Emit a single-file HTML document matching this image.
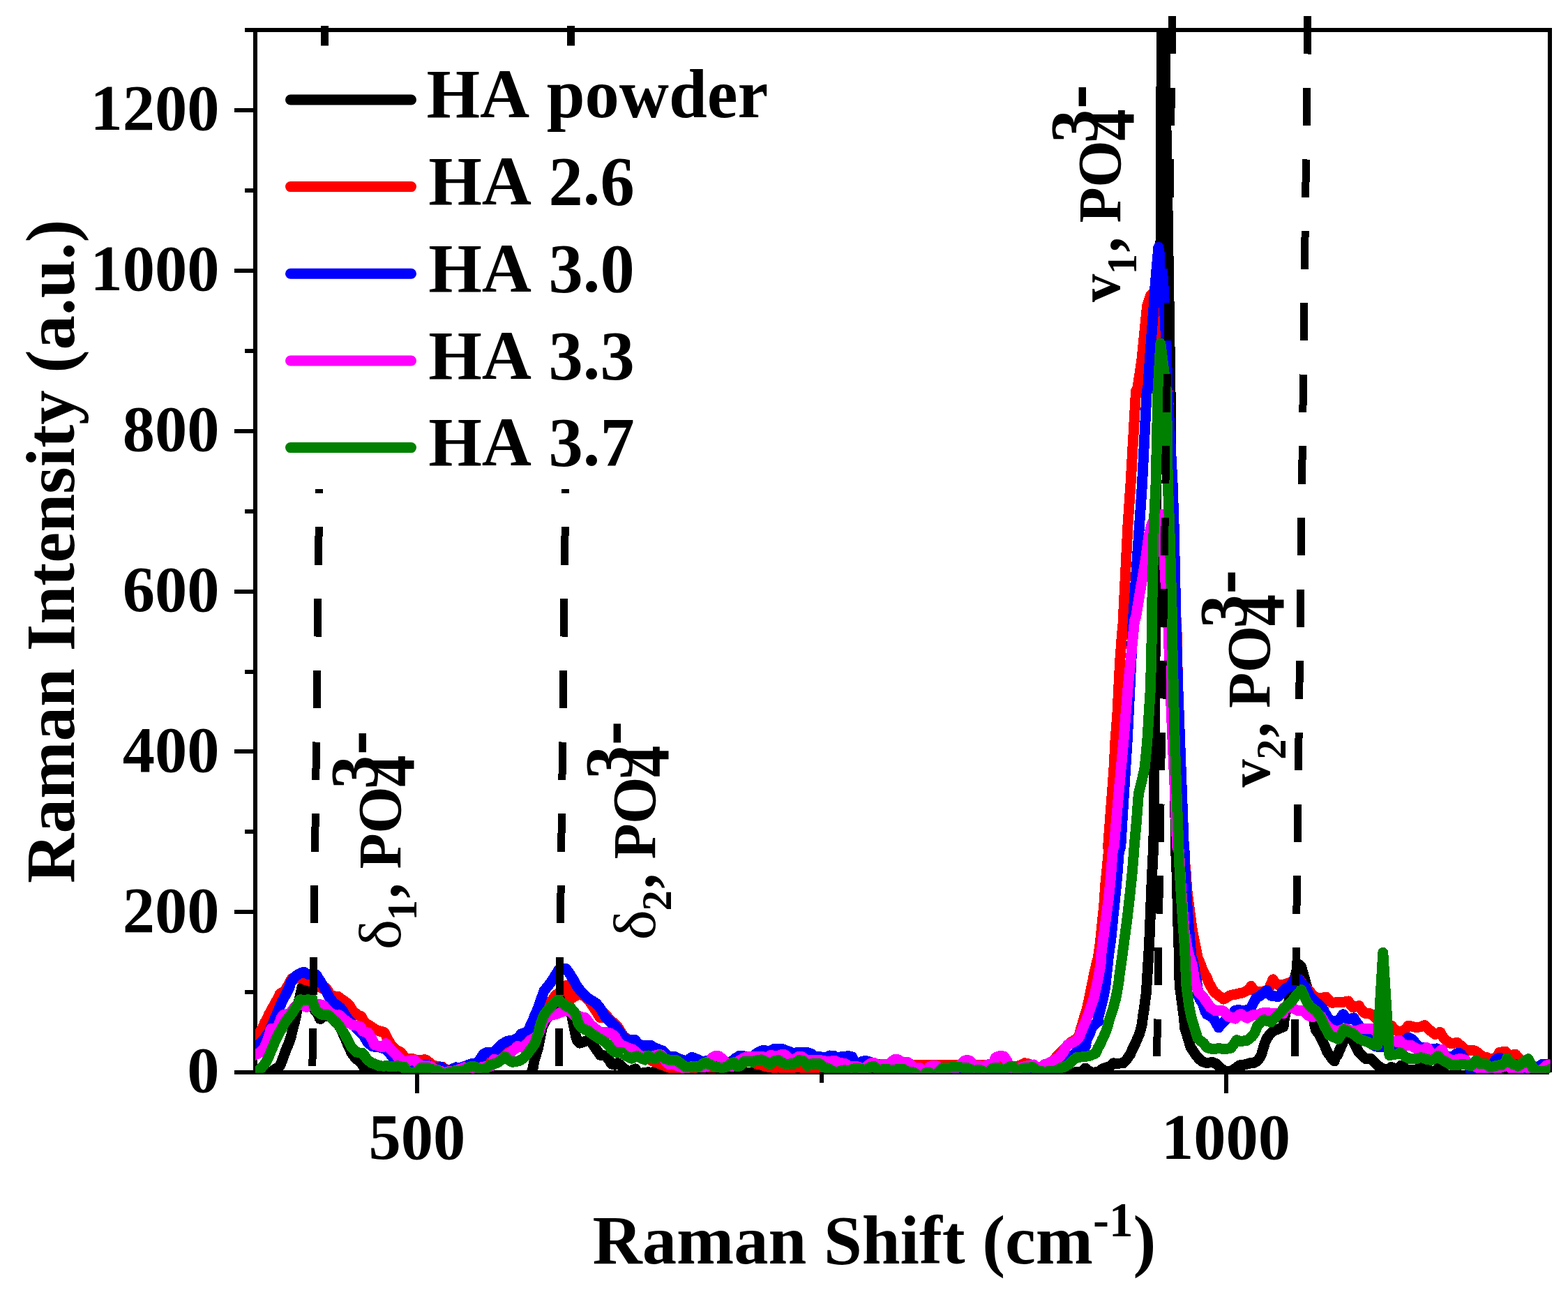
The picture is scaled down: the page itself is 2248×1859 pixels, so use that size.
<!DOCTYPE html>
<html lang="en">
<head>
<meta charset="utf-8">
<title>Raman spectra of HA powder and HA coatings</title>
<style>
html,body{margin:0;padding:0;background:#fff;}
body{width:2248px;height:1859px;overflow:hidden;position:relative;font-family:"Liberation Serif","Times New Roman",Times,serif;}
</style>
</head>
<body>
<svg xmlns="http://www.w3.org/2000/svg" width="2248" height="1859" viewBox="0 0 2248 1859" style="display:block;position:absolute;left:0;top:0;font-kerning:none;font-variant-ligatures:none" font-family="'Liberation Serif','Times New Roman',Times,serif" font-weight="bold" fill="#000">
<rect x="0" y="0" width="2248" height="1859" fill="#fff"/>
<g stroke="#000" stroke-width="6" fill="none" stroke-linecap="butt" shape-rendering="crispEdges">
<path d="M366.0,40.2 V1540.0"/>
<path d="M363.0,1537.0 H2221.2"/>
<path d="M363.0,43.2 H2225.0"/>
<path d="M2222.0,40.2 V1536.8"/>
<path d="M336.0,1537.0 H366.0"/>
<path d="M351.0,1422.1 H366.0"/>
<path d="M336.0,1307.2 H366.0"/>
<path d="M351.0,1192.3 H366.0"/>
<path d="M336.0,1077.4 H366.0"/>
<path d="M351.0,962.5 H366.0"/>
<path d="M336.0,847.6 H366.0"/>
<path d="M351.0,732.6 H366.0"/>
<path d="M336.0,617.7 H366.0"/>
<path d="M351.0,502.8 H366.0"/>
<path d="M336.0,387.9 H366.0"/>
<path d="M351.0,273.0 H366.0"/>
<path d="M336.0,158.1 H366.0"/>
<path d="M351.0,43.2 H366.0"/>
<path d="M598.3,1537.0 V1567.0"/>
<path d="M1178.2,1537.0 V1552.0"/>
<path d="M1758.1,1537.0 V1567.0"/>
</g>
<defs><clipPath id="pc"><rect x="366.0" y="43.2" width="1856.5" height="1494.6"/></clipPath></defs>
<g clip-path="url(#pc)" fill="none" stroke-width="15" stroke-linejoin="round" stroke-linecap="round" shape-rendering="crispEdges">
<path d="M360.0,1544.4 L379.0,1543.9 L390.0,1535.3 L396.0,1531.3 L399.3,1529.7 L400.6,1528.5 L402.6,1525.1 L405.2,1518.0 L408.0,1510.5 L410.0,1504.5 L413.8,1496.1 L417.4,1485.3 L419.2,1477.0 L422.1,1466.5 L424.8,1454.6 L425.7,1447.5 L429.8,1429.4 L432.7,1416.6 L432.7,1415.5 L434.6,1417.1 L439.3,1419.5 L446.0,1433.2 L450.3,1446.5 L455.1,1452.7 L457.5,1457.7 L459.7,1460.6 L458.8,1460.4 L458.6,1460.1 L462.7,1456.6 L473.5,1456.5 L479.6,1463.3 L484.4,1468.1 L488.2,1473.4 L492.3,1482.4 L496.1,1491.1 L499.9,1500.4 L504.2,1509.2 L508.3,1514.9 L512.3,1518.8 L516.7,1522.4 L525.7,1535.2 L529.9,1536.8 L534.1,1539.4 L541.2,1543.2 L549.4,1542.8 L556.1,1543.3 L561.8,1544.3 L568.7,1543.0 L571.3,1541.4 L571.5,1542.4 L584.8,1549.0 L659.6,1538.3 L752.3,1544.4 L761.3,1539.1 L764.0,1531.2 L765.9,1520.8 L768.8,1510.9 L771.6,1501.7 L773.4,1492.5 L775.3,1483.0 L777.4,1472.8 L780.7,1466.0 L783.6,1460.3 L795.0,1446.5 L802.6,1436.1 L810.2,1433.2 L814.5,1438.0 L817.5,1446.5 L819.7,1455.1 L821.6,1465.5 L823.5,1475.0 L825.4,1484.5 L827.8,1492.1 L831.1,1495.1 L836.8,1493.2 L842.5,1491.3 L846.8,1492.2 L860.4,1512.2 L868.9,1513.4 L874.0,1520.6 L876.0,1524.2 L877.3,1525.2 L881.7,1526.2 L883.6,1525.0 L885.8,1523.6 L889.5,1526.5 L893.9,1531.0 L901.2,1535.6 L911.5,1534.1 L911.3,1531.9 L908.8,1532.6 L916.1,1538.3 L926.7,1537.5 L929.5,1536.6 L935.0,1538.6 L944.9,1534.6 L944.5,1530.4 L941.0,1532.1 L947.1,1540.7 L959.6,1540.9 L960.8,1539.5 L962.2,1542.2 L971.5,1548.9 L1018.7,1539.5 L1024.7,1537.1 L1030.7,1539.5 L1066.4,1537.7 L1078.3,1537.1 L1086.0,1537.3 L1091.9,1539.5 L1103.8,1541.8 L1121.7,1540.7 L1127.7,1543.0 L1143.2,1542.4 L1151.5,1545.4 L1318.3,1545.4 L1508.5,1543.4 L1519.5,1543.2 L1529.7,1541.1 L1539.4,1537.2 L1542.7,1536.6 L1551.0,1535.7 L1556.2,1531.7 L1556.9,1531.4 L1556.1,1531.0 L1559.1,1534.2 L1566.7,1537.6 L1576.5,1535.9 L1580.8,1531.8 L1584.9,1530.6 L1591.2,1528.5 L1596.4,1523.9 L1595.7,1524.3 L1601.6,1524.3 L1610.4,1523.7 L1616.3,1517.3 L1620.6,1510.9 L1623.6,1503.8 L1627.4,1496.2 L1630.4,1489.4 L1633.4,1482.3 L1635.5,1475.0 L1637.5,1466.7 L1638.5,1457.0 L1640.4,1445.7 L1641.8,1434.2 L1643.3,1423.5 L1644.2,1409.1 L1647.6,1353.3 L1649.5,1305.7 L1651.4,1258.1 L1653.3,1220.0 L1653.9,1213.0 L1655.4,1023.0 L1656.4,890.0 L1657.6,703.0 L1664.2,335.0 L1664.4,230.0 L1665.5,43.0 L1667.5,-200.0 L1669.5,43.0 L1674.0,300.0 L1678.0,560.0 L1681.0,890.0 L1685.7,1220.0 L1687.4,1258.1 L1688.6,1315.2 L1690.5,1372.4 L1690.3,1379.8 L1690.8,1398.8 L1691.3,1412.6 L1693.1,1426.5 L1695.0,1440.8 L1697.0,1455.2 L1698.8,1473.8 L1701.4,1482.4 L1704.3,1491.9 L1706.8,1500.5 L1711.0,1507.1 L1714.5,1512.3 L1718.6,1517.2 L1723.6,1521.7 L1728.8,1523.2 L1732.9,1523.1 L1738.3,1522.6 L1742.0,1524.3 L1744.2,1524.9 L1746.9,1527.8 L1751.1,1532.0 L1756.8,1535.4 L1765.3,1535.2 L1771.0,1531.4 L1774.4,1528.8 L1777.3,1526.8 L1781.9,1526.6 L1788.4,1525.0 L1792.5,1523.7 L1797.5,1523.3 L1802.6,1520.6 L1806.4,1515.9 L1808.6,1511.1 L1811.1,1502.6 L1813.7,1494.0 L1816.8,1487.4 L1820.6,1482.1 L1825.4,1477.9 L1832.0,1475.0 L1836.8,1473.1 L1840.0,1471.7 L1840.4,1466.0 L1843.6,1449.2 L1847.6,1437.0 L1853.3,1413.3 L1859.3,1389.5 L1862.8,1382.7 L1865.6,1385.7 L1869.4,1399.0 L1872.5,1410.4 L1875.6,1422.8 L1878.9,1437.0 L1881.8,1451.3 L1883.5,1460.8 L1885.2,1471.1 L1886.6,1476.4 L1891.0,1482.6 L1895.1,1490.7 L1899.1,1498.6 L1902.6,1507.6 L1906.9,1513.4 L1911.2,1519.6 L1913.2,1521.0 L1913.6,1516.8 L1917.6,1512.0 L1925.0,1494.7 L1932.4,1477.5 L1940.3,1493.1 L1948.3,1508.6 L1954.9,1514.8 L1958.0,1517.6 L1959.7,1517.4 L1965.5,1517.5 L1974.5,1526.6 L1978.8,1529.8 L1985.8,1532.8 L1993.2,1531.7 L1997.0,1530.4 L1994.5,1529.5 L2003.0,1534.7 L2010.7,1527.0 L2008.6,1527.1 L2008.0,1528.3 L2011.8,1530.2 L2019.3,1533.7 L2027.2,1533.3 L2033.1,1532.6 L2037.8,1530.7 L2040.0,1530.5 L2043.0,1531.5 L2047.5,1533.3 L2053.2,1535.5 L2062.0,1534.5 L2065.2,1530.4 L2061.5,1531.2 L2063.1,1532.5 L2066.7,1535.2 L2070.4,1537.9 L2077.2,1542.9 L2086.3,1543.3 L2092.3,1541.8 L2093.7,1540.7 L2100.2,1546.7 L2119.2,1549.0 L2120.4,1542.5 L2223.0,1544.4" stroke="#000000"/>
<path d="M367.9,1485.2 L372.0,1479.7 L376.1,1474.8 L379.1,1466.8 L383.8,1458.4 L385.7,1453.7 L390.3,1445.4 L395.1,1436.8 L399.9,1428.2 L401.4,1424.3 L408.1,1420.5 L413.1,1412.2 L416.8,1405.6 L418.5,1402.4 L420.4,1401.9 L421.8,1403.8 L426.5,1401.4 L430.3,1401.0 L434.1,1402.9 L438.9,1404.8 L442.7,1405.7 L448.4,1408.5 L455.0,1412.4 L458.8,1415.2 L463.6,1417.5 L464.6,1414.4 L468.1,1416.9 L473.6,1426.3 L482.8,1428.8 L485.2,1428.6 L488.7,1431.7 L493.5,1434.6 L497.5,1437.8 L501.3,1441.6 L506.3,1449.4 L512.9,1454.8 L517.9,1456.9 L523.1,1465.9 L529.4,1469.6 L533.9,1472.7 L539.4,1476.0 L545.4,1478.4 L549.5,1479.1 L551.1,1479.6 L555.1,1488.0 L560.4,1497.4 L566.6,1503.7 L572.2,1507.1 L575.2,1508.6 L581.2,1517.3 L590.6,1517.7 L593.2,1517.9 L598.6,1520.0 L605.6,1519.5 L608.9,1518.6 L610.7,1519.2 L614.3,1521.9 L619.7,1526.1 L626.8,1528.9 L632.3,1529.0 L634.4,1529.2 L638.4,1532.6 L643.0,1534.9 L659.6,1535.9 L671.5,1533.5 L683.4,1526.4 L689.4,1521.6 L695.3,1518.0 L709.5,1516.8 L716.2,1513.0 L723.8,1507.8 L729.5,1503.5 L737.1,1490.7 L742.8,1496.9 L749.4,1495.9 L757.0,1487.4 L764.6,1473.1 L772.2,1458.9 L777.9,1445.6 L789.0,1440.7 L790.4,1434.4 L793.5,1431.0 L796.5,1426.2 L799.8,1424.4 L811.3,1413.9 L813.4,1412.3 L812.0,1412.1 L812.5,1413.3 L818.3,1431.8 L822.9,1428.6 L831.6,1424.3 L840.0,1429.6 L844.6,1434.2 L860.4,1458.5 L863.8,1458.5 L866.6,1452.3 L872.5,1459.2 L877.7,1464.4 L882.2,1468.0 L886.2,1472.7 L890.7,1480.0 L894.6,1485.8 L906.5,1494.0 L916.0,1506.4 L923.4,1514.4 L935.4,1520.6 L947.3,1525.4 L959.1,1530.1 L968.3,1532.0 L977.8,1533.0 L987.3,1532.0 L1006.8,1528.7 L1018.7,1529.3 L1030.7,1529.9 L1042.6,1528.7 L1054.5,1526.4 L1066.4,1522.8 L1072.4,1521.6 L1078.3,1522.2 L1086.0,1525.2 L1090.7,1526.1 L1097.9,1528.7 L1109.8,1530.5 L1115.7,1529.9 L1127.7,1531.1 L1137.2,1530.5 L1144.3,1528.7 L1151.5,1531.1 L1163.4,1531.1 L1171.8,1530.5 L1180.1,1528.7 L1199.2,1526.4 L1234.9,1525.2 L1282.6,1525.2 L1318.3,1526.4 L1343.8,1526.4 L1367.7,1526.4 L1391.5,1527.0 L1408.2,1526.6 L1415.3,1527.6 L1423.7,1526.4 L1439.2,1528.7 L1451.1,1529.9 L1463.0,1527.0 L1469.0,1523.7 L1474.9,1524.9 L1489.5,1531.1 L1499.0,1528.2 L1508.5,1522.5 L1516.1,1513.0 L1522.8,1506.4 L1529.4,1499.7 L1535.1,1494.0 L1546.1,1487.2 L1548.0,1480.8 L1549.9,1473.3 L1551.8,1467.7 L1553.7,1460.9 L1555.6,1454.4 L1557.5,1448.6 L1559.5,1440.6 L1561.4,1431.9 L1563.4,1422.3 L1565.3,1412.8 L1567.2,1403.3 L1569.0,1394.0 L1570.9,1386.4 L1571.9,1381.5 L1574.3,1372.4 L1577.1,1353.3 L1580.0,1324.8 L1582.9,1296.2 L1584.8,1267.6 L1587.6,1239.0 L1589.5,1220.0 L1588.6,1213.8 L1591.4,1175.7 L1594.3,1137.6 L1597.1,1099.5 L1599.0,1061.4 L1601.9,1023.3 L1603.8,985.2 L1605.7,947.1 L1608.6,909.0 L1610.5,890.0 L1610.5,883.8 L1617.1,750.5 L1621.0,693.3 L1628.6,560.0 L1630.3,560.0 L1637.0,515.0 L1640.8,477.0 L1644.6,439.0 L1649.3,423.8 L1656.0,417.2 L1660.7,431.4 L1663.6,484.6 L1666.4,560.0 L1674.3,560.0 L1680.0,693.3 L1682.9,788.6 L1685.7,883.8 L1686.7,890.0 L1688.6,985.2 L1690.5,1061.4 L1693.7,1137.6 L1697.3,1213.8 L1697.1,1220.0 L1700.0,1248.6 L1701.9,1277.1 L1705.7,1305.7 L1709.5,1334.3 L1713.3,1353.3 L1717.1,1372.4 L1721.3,1382.4 L1723.4,1388.6 L1726.6,1395.0 L1730.2,1401.2 L1733.1,1408.8 L1737.2,1416.1 L1740.9,1422.0 L1745.3,1425.5 L1754.2,1432.1 L1763.0,1427.1 L1765.6,1426.2 L1770.8,1425.3 L1776.7,1423.9 L1782.2,1422.7 L1789.3,1419.0 L1793.4,1414.0 L1793.7,1413.4 L1793.5,1413.3 L1794.7,1415.0 L1800.2,1421.9 L1809.7,1421.6 L1818.6,1418.3 L1823.6,1407.9 L1825.3,1403.9 L1824.7,1404.5 L1824.6,1404.1 L1826.4,1406.8 L1834.0,1412.6 L1842.5,1410.5 L1845.9,1409.5 L1852.2,1407.4 L1854.1,1405.0 L1858.9,1404.5 L1862.0,1404.1 L1863.1,1404.1 L1865.4,1407.5 L1869.5,1412.5 L1873.6,1416.7 L1877.1,1420.1 L1880.9,1424.9 L1887.9,1430.8 L1896.5,1430.1 L1900.2,1429.3 L1901.5,1429.1 L1902.9,1430.7 L1909.1,1437.2 L1917.9,1436.8 L1923.3,1436.4 L1928.1,1435.9 L1932.1,1435.5 L1933.2,1435.0 L1933.5,1436.4 L1939.7,1443.9 L1948.0,1441.7 L1948.2,1441.4 L1948.3,1441.9 L1950.6,1445.9 L1956.7,1452.4 L1963.6,1452.5 L1964.9,1453.2 L1966.9,1454.6 L1972.4,1458.9 L1979.0,1465.5 L1988.5,1469.3 L1992.8,1469.4 L1995.0,1470.2 L1998.1,1474.3 L2007.5,1480.6 L2016.3,1473.9 L2018.5,1470.6 L2019.6,1470.6 L2023.4,1471.0 L2029.6,1472.5 L2037.1,1471.8 L2040.9,1469.9 L2042.8,1469.6 L2043.2,1469.8 L2045.9,1472.7 L2049.7,1476.5 L2057.4,1482.4 L2065.2,1479.7 L2064.2,1479.3 L2064.6,1480.0 L2067.9,1485.1 L2072.5,1490.8 L2080.0,1495.6 L2087.1,1494.8 L2089.0,1494.5 L2091.6,1496.4 L2095.6,1499.6 L2102.3,1505.6 L2110.5,1505.8 L2113.1,1505.6 L2116.8,1507.5 L2120.8,1510.7 L2126.3,1514.8 L2131.3,1515.4 L2133.3,1516.9 L2144.4,1517.6 L2148.7,1510.2 L2149.7,1508.5 L2150.9,1508.4 L2154.4,1507.7 L2157.7,1507.7 L2158.4,1507.0 L2163.1,1513.3 L2171.8,1511.2 L2172.6,1511.2 L2173.3,1511.9 L2175.9,1515.5 L2180.7,1519.1 L2183.6,1521.1 L2191.2,1526.4 L2201.6,1529.5 L2210.7,1527.9 L2217.8,1525.6 L2223.6,1525.2" stroke="#ff0000"/>
<path d="M366.1,1500.3 L370.7,1497.2 L375.0,1493.5 L380.2,1487.2 L385.6,1479.6 L390.6,1468.5 L395.4,1457.0 L400.2,1445.6 L404.8,1434.5 L409.4,1426.2 L414.4,1416.2 L417.2,1407.7 L419.4,1404.3 L422.3,1400.5 L426.1,1397.5 L429.9,1395.3 L433.6,1393.8 L435.1,1393.2 L435.9,1393.5 L441.0,1396.3 L449.0,1396.5 L452.2,1396.4 L454.0,1398.1 L458.2,1404.9 L462.8,1412.3 L467.5,1420.7 L472.4,1429.6 L478.2,1437.6 L484.0,1441.3 L487.7,1444.2 L491.5,1448.8 L496.1,1457.1 L499.4,1461.5 L520.5,1483.2 L525.4,1491.0 L527.5,1494.7 L531.1,1497.5 L534.2,1499.9 L538.0,1500.3 L544.3,1500.9 L551.8,1503.5 L557.9,1508.1 L561.0,1513.2 L564.2,1516.3 L566.5,1524.4 L576.0,1526.8 L585.5,1529.2 L595.0,1528.2 L605.9,1526.7 L609.9,1526.4 L613.7,1526.8 L619.2,1529.6 L627.7,1531.0 L631.9,1529.5 L633.1,1529.5 L634.9,1531.2 L640.8,1535.7 L653.6,1529.9 L659.6,1530.5 L665.5,1528.7 L671.5,1526.1 L677.5,1524.2 L683.4,1524.0 L689.4,1516.8 L692.9,1510.9 L697.7,1508.5 L708.4,1508.2 L715.1,1501.0 L718.9,1497.0 L722.9,1494.7 L726.5,1492.4 L729.6,1491.9 L735.4,1491.2 L742.9,1487.4 L747.4,1481.8 L749.9,1481.2 L757.2,1477.7 L761.1,1468.5 L763.9,1462.8 L766.8,1455.2 L769.6,1449.5 L772.6,1441.4 L775.5,1432.9 L778.3,1425.3 L779.9,1420.4 L781.9,1417.9 L786.7,1412.1 L791.8,1405.1 L796.6,1397.2 L799.4,1392.7 L800.6,1390.6 L805.1,1388.0 L808.0,1388.0 L810.7,1388.1 L813.1,1390.6 L817.3,1396.5 L821.8,1403.8 L826.7,1412.5 L832.0,1420.0 L837.2,1425.2 L842.3,1430.2 L854.8,1438.1 L857.8,1441.6 L862.1,1447.6 L867.2,1456.6 L872.7,1462.3 L877.7,1467.3 L882.2,1470.8 L886.2,1475.6 L890.9,1483.2 L897.7,1489.9 L906.5,1490.6 L910.0,1490.5 L910.3,1490.3 L913.2,1494.2 L919.6,1499.3 L926.7,1498.6 L930.3,1498.2 L932.5,1498.2 L936.4,1500.7 L941.7,1502.9 L946.5,1504.8 L949.7,1505.9 L953.2,1509.4 L959.1,1515.3 L966.3,1514.3 L967.0,1514.5 L970.0,1516.1 L974.4,1517.8 L984.0,1521.3 L991.4,1515.5 L992.0,1515.3 L994.6,1516.4 L1000.9,1518.6 L1006.8,1522.2 L1012.8,1520.4 L1018.7,1521.6 L1030.7,1526.4 L1042.6,1526.4 L1048.5,1521.6 L1054.5,1516.8 L1060.4,1513.3 L1066.4,1513.8 L1072.4,1516.8 L1078.3,1514.4 L1086.0,1509.1 L1091.9,1505.9 L1097.9,1505.9 L1101.4,1508.5 L1106.2,1505.3 L1109.8,1503.5 L1115.7,1503.4 L1121.7,1503.5 L1127.7,1505.9 L1133.6,1508.2 L1137.2,1510.3 L1142.0,1508.7 L1151.5,1508.5 L1157.5,1508.7 L1163.4,1510.3 L1168.2,1514.4 L1175.3,1514.7 L1181.3,1515.4 L1183.7,1516.5 L1189.6,1513.0 L1195.6,1513.3 L1200.4,1518.6 L1205.1,1514.8 L1211.1,1514.2 L1217.0,1513.6 L1221.8,1515.0 L1224.8,1524.0 L1227.8,1528.7 L1231.3,1525.2 L1234.9,1521.8 L1239.7,1520.4 L1244.4,1521.2 L1249.2,1523.0 L1254.0,1525.2 L1258.7,1525.8 L1264.7,1526.4 L1273.0,1525.8 L1282.6,1528.7 L1294.5,1531.1 L1306.4,1533.5 L1318.3,1535.9 L1343.8,1537.1 L1367.7,1535.9 L1391.5,1536.5 L1415.3,1535.9 L1439.2,1537.1 L1463.0,1536.5 L1478.5,1535.9 L1499.0,1536.8 L1513.3,1533.0 L1522.8,1526.3 L1532.3,1517.8 L1541.8,1509.2 L1551.3,1503.5 L1557.0,1498.8 L1556.4,1496.7 L1558.5,1489.3 L1562.3,1481.7 L1564.5,1474.5 L1569.7,1467.8 L1574.2,1464.6 L1574.3,1460.2 L1576.3,1452.3 L1578.2,1444.7 L1580.1,1437.2 L1581.9,1428.8 L1583.8,1419.6 L1585.1,1410.4 L1586.1,1401.0 L1587.5,1388.7 L1588.5,1379.3 L1589.1,1372.4 L1593.0,1343.8 L1595.8,1315.2 L1598.7,1286.7 L1601.5,1258.1 L1604.4,1220.0 L1606.7,1213.8 L1611.4,1137.6 L1616.2,1061.4 L1620.0,985.2 L1622.3,937.6 L1624.2,890.0 L1624.8,883.8 L1633.7,750.5 L1637.5,693.3 L1644.2,560.0 L1645.5,560.0 L1648.4,515.0 L1651.2,477.0 L1654.1,439.0 L1656.0,410.5 L1658.4,382.0 L1660.9,354.5 L1662.2,363.0 L1666.4,385.8 L1668.7,420.0 L1670.2,458.0 L1672.1,496.0 L1674.0,560.0 L1673.9,560.0 L1681.1,693.3 L1683.0,750.5 L1685.9,883.8 L1685.9,890.0 L1688.8,985.2 L1691.6,1061.4 L1694.5,1137.6 L1697.3,1213.8 L1698.1,1220.0 L1699.4,1258.1 L1701.9,1296.2 L1704.8,1334.3 L1708.2,1372.4 L1710.7,1378.8 L1713.0,1392.9 L1715.4,1405.3 L1716.9,1415.3 L1717.8,1426.0 L1720.0,1431.8 L1724.9,1439.7 L1727.8,1449.4 L1730.2,1453.8 L1733.3,1455.3 L1739.8,1459.6 L1743.5,1466.5 L1747.1,1472.6 L1747.6,1472.3 L1747.1,1473.0 L1749.0,1469.7 L1768.7,1451.0 L1770.0,1448.7 L1772.4,1448.0 L1775.0,1447.4 L1778.6,1448.2 L1784.5,1448.8 L1793.2,1445.5 L1796.9,1437.5 L1799.5,1433.3 L1800.9,1430.3 L1805.6,1428.1 L1811.1,1423.9 L1814.7,1420.8 L1816.6,1420.2 L1816.4,1419.4 L1817.5,1422.5 L1822.2,1427.1 L1832.5,1428.5 L1837.9,1422.6 L1842.8,1417.0 L1850.0,1413.8 L1854.0,1406.7 L1855.7,1403.7 L1857.4,1403.6 L1861.6,1404.5 L1862.5,1403.9 L1863.5,1406.0 L1867.6,1411.1 L1871.0,1414.5 L1874.1,1419.5 L1878.2,1428.6 L1883.5,1434.1 L1887.7,1437.3 L1891.1,1439.8 L1894.2,1442.9 L1897.4,1446.9 L1898.8,1449.9 L1901.8,1455.8 L1905.9,1462.3 L1918.2,1464.2 L1923.1,1457.5 L1925.8,1453.9 L1924.8,1454.4 L1926.5,1454.0 L1926.3,1455.0 L1932.6,1461.2 L1939.8,1459.4 L1941.4,1458.9 L1941.5,1459.8 L1943.9,1464.0 L1946.9,1468.0 L1948.7,1470.6 L1958.7,1480.7 L1962.5,1492.1 L1972.4,1499.9 L1979.0,1500.8 L1988.5,1500.2 L1998.0,1497.8 L2005.6,1494.0 L2016.6,1489.8 L2018.7,1487.3 L2019.2,1487.2 L2022.5,1488.5 L2025.3,1490.1 L2028.3,1493.9 L2034.3,1500.6 L2042.6,1501.9 L2046.7,1502.8 L2051.8,1503.9 L2057.9,1503.4 L2059.8,1502.9 L2063.8,1507.7 L2070.4,1513.9 L2082.3,1515.3 L2088.6,1509.8 L2089.9,1509.6 L2092.6,1509.7 L2094.7,1511.0 L2097.6,1514.9 L2106.7,1527.3 L2110.0,1541.5 L2120.0,1547.2 L2128.0,1547.2 L2135.6,1535.8 L2140.4,1526.3 L2143.7,1519.7 L2147.8,1516.7 L2150.1,1516.1 L2151.6,1517.5 L2162.2,1524.4 L2168.9,1528.2 L2173.6,1525.8 L2176.5,1528.2 L2185.0,1535.8 L2194.5,1535.8 L2201.2,1531.1 L2208.9,1527.0 L2210.8,1525.5 L2213.3,1525.7 L2222.6,1526.2" stroke="#0000ff"/>
<path d="M364.9,1512.3 L369.5,1510.2 L374.6,1507.1 L379.0,1501.4 L383.1,1492.0 L386.2,1483.0 L388.6,1474.6 L387.7,1476.2 L390.3,1475.6 L398.7,1471.3 L403.0,1459.1 L405.5,1455.3 L406.7,1454.3 L408.4,1454.4 L416.0,1452.3 L421.2,1445.2 L424.2,1441.4 L425.9,1440.4 L437.5,1441.2 L439.4,1443.6 L438.9,1443.5 L441.7,1441.5 L456.0,1439.8 L458.9,1439.7 L461.7,1440.2 L464.2,1441.6 L468.5,1446.8 L474.7,1452.8 L482.8,1455.4 L486.4,1454.7 L488.3,1456.2 L492.7,1460.6 L498.2,1465.0 L504.5,1468.7 L510.5,1470.0 L514.4,1470.7 L517.2,1472.2 L519.7,1478.0 L526.0,1479.7 L527.8,1480.2 L531.6,1486.5 L534.0,1490.5 L536.7,1497.4 L548.6,1500.9 L553.7,1496.4 L554.1,1496.2 L553.1,1495.7 L556.2,1499.1 L561.0,1504.8 L565.7,1509.5 L570.5,1515.2 L578.6,1522.1 L587.7,1520.2 L591.0,1519.5 L593.5,1519.4 L595.1,1519.8 L600.2,1525.8 L608.9,1528.1 L613.6,1527.6 L616.3,1528.2 L619.8,1530.0 L622.2,1531.6 L633.0,1535.8 L637.3,1537.7 L642.5,1535.8 L653.6,1534.7 L659.6,1532.3 L665.5,1529.9 L671.5,1532.3 L677.5,1534.7 L683.4,1533.5 L689.4,1529.9 L695.3,1528.7 L703.8,1528.2 L707.1,1521.6 L708.0,1518.5 L714.3,1519.6 L721.8,1517.0 L728.6,1510.2 L732.8,1507.8 L738.3,1503.4 L741.9,1499.5 L742.0,1499.6 L749.1,1501.3 L756.9,1495.2 L760.2,1490.9 L762.6,1489.6 L766.1,1487.8 L769.0,1485.1 L771.8,1482.8 L774.6,1475.4 L777.7,1466.4 L781.0,1460.7 L788.8,1455.3 L793.5,1454.4 L797.6,1453.6 L801.7,1451.9 L806.3,1450.1 L813.2,1448.1 L821.0,1452.4 L825.6,1458.0 L830.2,1456.3 L835.6,1458.4 L838.7,1458.6 L841.5,1461.8 L846.3,1468.4 L860.4,1479.7 L863.8,1479.7 L868.1,1479.7 L871.8,1480.0 L874.9,1480.9 L878.5,1483.1 L881.6,1485.4 L884.0,1490.4 L889.6,1497.1 L895.9,1499.9 L900.1,1502.0 L904.1,1503.0 L907.4,1504.2 L911.0,1507.2 L915.5,1511.7 L917.4,1513.6 L930.3,1514.9 L939.8,1512.9 L944.5,1511.5 L948.3,1512.0 L954.0,1520.6 L958.8,1525.5 L963.5,1524.5 L973.0,1528.2 L982.5,1532.0 L992.0,1528.2 L1006.8,1529.9 L1012.8,1528.7 L1016.4,1522.8 L1021.1,1515.6 L1025.9,1513.3 L1030.7,1513.8 L1036.6,1518.6 L1042.6,1524.6 L1049.7,1528.7 L1054.5,1524.0 L1060.4,1519.8 L1066.4,1516.2 L1072.4,1514.8 L1078.3,1514.2 L1086.0,1514.1 L1091.9,1514.1 L1096.7,1515.9 L1098.5,1519.4 L1101.4,1514.7 L1105.0,1512.3 L1109.8,1513.5 L1114.6,1514.1 L1118.1,1512.3 L1121.7,1511.3 L1125.3,1511.7 L1130.0,1515.9 L1134.8,1521.2 L1139.6,1518.3 L1144.3,1514.7 L1149.1,1514.4 L1153.9,1517.7 L1157.5,1519.4 L1163.4,1519.4 L1169.4,1519.4 L1175.3,1519.4 L1181.3,1520.6 L1187.2,1522.4 L1193.2,1520.6 L1198.0,1520.6 L1202.7,1523.6 L1211.1,1524.2 L1217.0,1527.8 L1220.6,1530.2 L1224.2,1528.4 L1230.1,1529.0 L1234.9,1531.4 L1239.7,1532.0 L1244.4,1526.6 L1249.2,1523.6 L1254.0,1523.6 L1258.7,1527.8 L1261.1,1529.0 L1264.7,1525.4 L1270.7,1525.4 L1275.4,1526.6 L1279.0,1521.2 L1282.6,1518.3 L1288.5,1518.9 L1293.3,1525.4 L1298.1,1522.4 L1301.6,1522.4 L1306.4,1526.6 L1311.2,1530.8 L1318.3,1530.4 L1323.6,1536.1 L1327.1,1537.3 L1331.9,1529.6 L1337.9,1527.2 L1342.6,1527.8 L1348.6,1533.2 L1355.7,1534.1 L1367.7,1533.5 L1377.2,1526.6 L1382.0,1520.6 L1386.7,1519.2 L1391.5,1521.2 L1396.3,1530.2 L1401.0,1527.2 L1405.8,1527.8 L1410.6,1530.8 L1415.3,1526.0 L1420.1,1525.4 L1423.7,1526.6 L1427.2,1515.9 L1433.2,1513.5 L1439.2,1514.1 L1443.9,1520.6 L1446.3,1529.0 L1451.1,1532.3 L1458.2,1531.4 L1474.9,1527.2 L1480.9,1526.4 L1481.7,1526.1 L1483.4,1528.8 L1494.2,1529.5 L1498.2,1525.1 L1501.8,1524.7 L1507.4,1521.5 L1511.9,1519.2 L1518.1,1515.9 L1524.3,1508.5 L1528.2,1500.8 L1530.6,1497.7 L1533.7,1496.0 L1538.5,1494.1 L1543.7,1490.7 L1547.6,1485.8 L1549.7,1479.7 L1553.4,1471.4 L1556.3,1464.5 L1559.2,1456.7 L1562.1,1449.0 L1565.0,1440.3 L1568.0,1431.4 L1570.0,1422.5 L1571.9,1413.9 L1573.8,1405.3 L1575.7,1395.6 L1577.2,1386.9 L1578.1,1381.2 L1578.1,1372.4 L1581.9,1343.8 L1585.7,1315.2 L1589.5,1286.7 L1592.4,1258.1 L1595.2,1220.0 L1597.1,1213.8 L1603.8,1137.6 L1610.9,1061.4 L1617.1,985.2 L1621.9,937.6 L1626.5,890.0 L1628.6,883.8 L1633.3,855.2 L1638.1,826.7 L1642.9,798.1 L1646.7,769.5 L1651.4,750.5 L1658.1,741.0 L1665.3,737.1 L1667.6,769.5 L1670.5,826.7 L1674.3,883.8 L1675.0,899.5 L1677.9,985.2 L1681.1,1061.4 L1684.6,1137.6 L1687.6,1213.8 L1690.5,1220.0 L1692.4,1258.1 L1695.2,1296.2 L1698.1,1334.3 L1702.9,1362.9 L1708.8,1381.8 L1710.6,1388.7 L1711.6,1400.3 L1714.6,1410.7 L1718.0,1421.5 L1723.8,1427.8 L1727.1,1431.9 L1730.8,1437.4 L1735.2,1443.9 L1742.8,1449.0 L1750.3,1448.8 L1753.5,1448.8 L1754.9,1450.3 L1757.0,1452.3 L1760.2,1456.6 L1771.3,1460.1 L1777.1,1454.1 L1778.0,1453.7 L1779.1,1453.4 L1780.0,1454.4 L1788.3,1459.2 L1795.8,1455.0 L1798.2,1454.4 L1804.1,1453.9 L1809.9,1451.9 L1813.0,1451.6 L1822.1,1452.1 L1829.7,1452.6 L1839.6,1453.0 L1840.4,1444.6 L1851.2,1443.8 L1858.5,1447.4 L1861.2,1448.6 L1868.4,1449.0 L1874.3,1454.2 L1876.6,1456.0 L1880.1,1457.2 L1883.9,1457.1 L1886.6,1456.3 L1894.2,1456.8 L1899.2,1465.8 L1904.0,1471.8 L1909.8,1476.0 L1916.9,1477.8 L1923.3,1476.3 L1926.5,1474.6 L1928.5,1474.4 L1931.9,1475.5 L1937.3,1477.1 L1944.6,1477.7 L1950.7,1475.4 L1954.1,1474.4 L1957.8,1474.4 L1962.2,1474.4 L1967.0,1474.8 L1968.7,1475.5 L1979.0,1481.7 L1988.5,1489.3 L2002.9,1493.7 L2005.1,1492.1 L2007.1,1492.0 L2006.4,1491.2 L2009.7,1496.2 L2018.5,1498.7 L2022.2,1498.0 L2024.8,1499.6 L2029.8,1502.6 L2038.3,1505.3 L2044.6,1502.7 L2047.1,1502.4 L2045.2,1501.4 L2047.8,1506.7 L2059.3,1512.5 L2065.1,1506.0 L2067.3,1504.8 L2067.6,1504.2 L2067.4,1504.7 L2069.3,1508.1 L2072.8,1514.8 L2081.7,1520.5 L2089.6,1518.3 L2093.4,1517.2 L2095.9,1517.9 L2099.8,1519.1 L2101.4,1519.7 L2103.2,1522.3 L2114.7,1528.2 L2120.0,1531.1 L2122.3,1532.0 L2129.9,1531.1 L2135.6,1535.8 L2143.2,1532.0 L2151.8,1530.1 L2161.3,1526.8 L2166.0,1531.1 L2173.6,1533.9 L2180.3,1531.1 L2187.9,1526.8 L2191.7,1532.0 L2199.3,1535.8 L2204.0,1535.8 L2213.7,1531.0 L2216.4,1527.3 L2218.2,1526.5 L2223.6,1526.2" stroke="#ff00ff"/>
<path d="M366.1,1537.3 L370.7,1534.2 L375.0,1530.5 L380.6,1523.6 L385.8,1513.3 L390.7,1501.6 L395.3,1490.5 L399.9,1481.4 L404.6,1473.0 L409.1,1464.7 L413.5,1458.7 L418.4,1452.8 L423.4,1444.8 L428.1,1437.3 L431.0,1432.6 L429.2,1433.5 L434.4,1434.0 L440.1,1433.0 L442.3,1432.6 L447.3,1433.5 L447.6,1431.7 L447.9,1435.6 L450.0,1440.8 L453.4,1448.6 L460.4,1454.1 L467.0,1454.5 L469.6,1454.5 L472.2,1456.2 L476.6,1460.6 L481.1,1464.2 L485.2,1469.1 L489.6,1475.4 L494.2,1482.6 L498.7,1490.9 L503.7,1500.8 L510.3,1507.7 L519.0,1509.9 L519.6,1509.2 L519.6,1510.0 L522.6,1513.0 L526.7,1518.9 L532.8,1523.5 L538.1,1525.2 L543.8,1527.9 L551.1,1528.1 L554.4,1527.1 L558.4,1528.9 L565.8,1529.0 L569.2,1527.6 L571.7,1528.0 L576.4,1529.4 L579.7,1529.4 L579.5,1529.9 L583.1,1535.4 L592.3,1538.5 L599.9,1534.9 L603.2,1530.7 L603.2,1530.5 L604.9,1530.5 L609.3,1530.5 L612.5,1530.3 L616.6,1532.1 L622.4,1533.3 L625.8,1533.4 L628.4,1535.1 L635.9,1540.4 L644.0,1536.8 L645.0,1536.6 L653.6,1535.3 L659.6,1535.3 L665.5,1534.1 L671.5,1529.9 L677.5,1528.1 L683.4,1529.9 L689.4,1533.5 L695.3,1532.3 L702.8,1526.6 L706.9,1525.0 L712.9,1523.5 L718.6,1519.2 L722.6,1516.7 L725.4,1515.1 L723.9,1514.8 L726.7,1518.0 L734.6,1522.3 L743.6,1520.9 L750.2,1517.0 L755.3,1512.0 L759.3,1506.0 L763.1,1501.3 L767.6,1494.3 L769.9,1486.7 L771.9,1480.7 L773.8,1472.1 L775.5,1466.0 L778.1,1459.0 L781.4,1452.5 L785.4,1447.7 L789.2,1443.9 L793.0,1439.1 L796.2,1436.0 L798.4,1434.2 L800.6,1433.5 L800.9,1433.6 L802.9,1434.9 L806.4,1438.1 L811.0,1441.5 L815.8,1443.9 L818.0,1444.4 L821.6,1448.5 L824.5,1452.0 L826.8,1458.2 L828.9,1466.5 L833.8,1473.1 L839.5,1476.2 L843.4,1477.6 L847.3,1480.9 L856.8,1487.3 L861.9,1490.1 L866.2,1492.7 L869.3,1494.9 L872.1,1497.7 L876.0,1503.5 L882.4,1508.3 L889.0,1508.6 L891.4,1508.6 L893.5,1510.5 L897.5,1513.5 L905.6,1517.2 L912.1,1513.8 L913.1,1513.3 L913.0,1513.2 L914.5,1514.5 L924.5,1519.0 L929.4,1513.0 L929.3,1513.8 L930.1,1513.6 L930.5,1514.3 L939.1,1518.0 L945.3,1513.2 L946.3,1512.7 L946.1,1512.6 L948.2,1514.2 L953.8,1517.5 L960.5,1519.5 L966.4,1519.6 L969.5,1519.4 L970.9,1520.3 L974.2,1522.8 L977.8,1525.5 L983.7,1530.0 L991.9,1529.8 L994.8,1528.5 L1000.9,1529.9 L1006.8,1525.2 L1011.6,1522.8 L1018.7,1526.4 L1024.7,1528.7 L1030.7,1529.9 L1036.6,1530.5 L1042.6,1528.7 L1048.5,1524.0 L1052.1,1522.8 L1056.9,1528.7 L1061.6,1527.6 L1066.4,1521.6 L1072.4,1521.6 L1078.3,1522.2 L1086.0,1519.4 L1091.9,1518.9 L1097.9,1521.8 L1103.8,1525.4 L1109.8,1521.2 L1115.7,1519.4 L1121.7,1523.6 L1127.7,1525.4 L1133.6,1524.8 L1139.6,1524.2 L1145.5,1519.4 L1151.5,1520.6 L1157.5,1527.8 L1163.4,1524.8 L1169.4,1524.2 L1175.3,1524.8 L1181.3,1529.6 L1187.2,1531.4 L1193.2,1534.9 L1199.2,1537.3 L1205.1,1534.9 L1211.1,1533.7 L1217.0,1535.5 L1223.0,1532.0 L1229.0,1531.4 L1234.9,1532.0 L1240.9,1534.9 L1246.8,1529.6 L1252.8,1528.4 L1258.7,1533.7 L1261.1,1536.1 L1264.7,1532.6 L1270.7,1532.3 L1276.6,1533.2 L1282.6,1533.2 L1288.5,1532.0 L1294.5,1532.0 L1300.4,1536.1 L1306.4,1536.1 L1312.4,1538.5 L1318.3,1544.2 L1323.6,1540.9 L1327.1,1537.9 L1331.9,1537.3 L1336.7,1540.9 L1341.4,1541.5 L1346.2,1536.1 L1351.0,1530.8 L1355.7,1530.2 L1361.7,1530.2 L1367.7,1529.0 L1373.6,1529.0 L1379.6,1530.2 L1385.5,1530.2 L1391.5,1532.6 L1395.1,1536.1 L1399.8,1533.7 L1403.4,1533.2 L1408.2,1534.9 L1412.9,1540.9 L1417.7,1536.1 L1422.5,1531.4 L1427.2,1530.2 L1433.2,1531.4 L1439.2,1536.1 L1443.9,1531.4 L1448.7,1528.4 L1453.5,1529.0 L1459.4,1536.1 L1463.0,1532.6 L1469.0,1530.2 L1474.9,1530.2 L1480.9,1529.6 L1481.3,1529.7 L1487.6,1535.2 L1497.1,1536.2 L1504.0,1535.7 L1514.7,1535.3 L1521.6,1530.1 L1525.5,1529.5 L1532.2,1525.5 L1537.3,1520.5 L1541.3,1517.3 L1544.2,1515.3 L1547.3,1515.3 L1552.0,1514.8 L1557.1,1514.3 L1562.6,1513.2 L1571.0,1509.6 L1574.2,1501.9 L1577.0,1497.4 L1579.9,1490.5 L1582.8,1484.8 L1585.8,1477.7 L1587.9,1471.4 L1589.8,1463.8 L1592.6,1455.5 L1595.5,1446.7 L1597.5,1438.9 L1599.4,1432.1 L1601.4,1422.2 L1602.8,1413.5 L1604.3,1404.7 L1605.3,1395.2 L1606.7,1385.8 L1607.3,1381.0 L1608.6,1372.4 L1612.4,1343.8 L1616.2,1315.2 L1620.0,1281.9 L1623.4,1248.6 L1625.7,1220.0 L1626.1,1213.8 L1629.5,1175.7 L1632.4,1137.6 L1637.1,1118.6 L1641.3,1099.5 L1644.8,1061.4 L1649.5,985.2 L1651.8,890.0 L1651.4,883.8 L1654.3,750.5 L1657.1,693.3 L1660.0,560.0 L1663.8,492.0 L1672.4,560.0 L1674.3,693.3 L1676.6,750.5 L1680.4,883.8 L1680.0,890.0 L1682.3,985.2 L1684.2,1061.4 L1687.0,1137.6 L1689.9,1213.8 L1689.9,1220.0 L1691.8,1258.1 L1694.7,1305.7 L1698.1,1353.3 L1699.6,1380.2 L1700.1,1394.6 L1701.0,1413.9 L1703.0,1428.5 L1704.9,1443.0 L1707.9,1457.8 L1710.8,1467.7 L1713.7,1477.2 L1717.1,1488.1 L1723.0,1493.4 L1725.7,1495.2 L1730.4,1501.7 L1739.3,1503.9 L1745.2,1502.9 L1749.7,1502.9 L1755.7,1503.9 L1765.0,1502.1 L1769.9,1495.2 L1772.7,1490.8 L1773.0,1490.8 L1773.8,1491.0 L1779.0,1492.5 L1787.6,1491.4 L1794.6,1486.0 L1798.8,1480.3 L1802.5,1470.9 L1805.3,1467.6 L1808.5,1464.5 L1811.6,1461.8 L1812.2,1461.6 L1813.1,1462.5 L1822.6,1464.8 L1829.0,1458.2 L1833.8,1453.5 L1838.8,1447.5 L1844.1,1441.6 L1848.9,1438.7 L1854.4,1432.1 L1859.0,1425.7 L1863.2,1421.6 L1865.8,1419.1 L1866.1,1418.8 L1864.9,1418.3 L1866.7,1420.8 L1870.2,1428.8 L1874.4,1437.1 L1879.3,1443.3 L1883.9,1446.8 L1886.9,1449.0 L1889.9,1452.8 L1893.2,1457.7 L1895.8,1463.7 L1898.8,1470.8 L1902.7,1477.6 L1905.9,1483.9 L1918.4,1489.3 L1924.6,1480.3 L1926.6,1475.8 L1926.9,1475.5 L1927.8,1475.7 L1930.7,1477.0 L1935.4,1479.8 L1939.7,1481.4 L1943.6,1484.7 L1949.2,1489.0 L1955.0,1491.5 L1962.5,1494.0 L1968.2,1497.8 L1975.0,1498.3 L1982.8,1365.3 L1991.9,1512.5 L1998.0,1511.6 L2002.8,1510.8 L2007.5,1509.4 L2006.8,1508.6 L2010.6,1511.4 L2015.0,1514.7 L2021.8,1517.9 L2029.9,1518.0 L2035.0,1516.0 L2037.5,1515.8 L2040.5,1516.4 L2045.0,1518.2 L2052.1,1519.5 L2059.3,1516.3 L2062.2,1513.5 L2061.2,1513.7 L2061.9,1514.3 L2065.7,1518.1 L2070.4,1520.5 L2074.9,1523.2 L2081.7,1526.9 L2089.4,1526.6 L2094.1,1525.7 L2097.4,1525.3 L2100.1,1525.8 L2109.0,1527.6 L2115.6,1521.0 L2116.9,1519.4 L2116.0,1519.8 L2116.0,1520.3 L2121.0,1524.9 L2128.4,1524.8 L2129.6,1524.5 L2131.0,1525.6 L2137.2,1529.9 L2144.3,1527.5 L2145.9,1527.1 L2152.5,1526.7 L2158.4,1521.8 L2161.4,1517.7 L2161.7,1517.5 L2160.1,1517.0 L2162.6,1520.2 L2167.2,1524.2 L2176.0,1528.1 L2184.2,1523.4 L2187.8,1519.8 L2189.3,1518.7 L2191.7,1518.6 L2191.1,1517.7 L2192.0,1519.9 L2194.5,1524.1 L2198.4,1531.7 L2206.7,1535.6 L2214.9,1535.6 L2221.1,1533.3 L2225.8,1531.4" stroke="#008000"/>
</g>
<defs><clipPath id="dc"><path d="M0,0 H2248 V65.5 H0 Z M0,701.0 H2248 V1859 H0 Z M1200,65.5 H2248 V701.0 H1200 Z"/></clipPath></defs>
<g clip-path="url(#dc)" stroke="#000" stroke-width="11" fill="none" stroke-dasharray="54.4 48.3" shape-rendering="crispEdges">
<path d="M465.8,36.6 L447.9,1528.0"/>
<path d="M818.6,36.6 L801.1,1528.0"/>
<path d="M1681.0,22.9 L1658.6,1514.0"/>
<path d="M1875.0,23.1 L1856.3,1514.0"/>
</g>
<path d="M416.5,143.0 H589.5" stroke="#000000" stroke-width="15" stroke-linecap="round" fill="none"/>
<text x="611.4" y="168.1" font-size="98.5">HA powder</text>
<path d="M416.5,267.6 H589.5" stroke="#ff0000" stroke-width="15" stroke-linecap="round" fill="none"/>
<text x="614.2" y="293.2" font-size="98.5">HA 2.6</text>
<path d="M416.5,392.3 H589.5" stroke="#0000ff" stroke-width="15" stroke-linecap="round" fill="none"/>
<text x="614.2" y="417.9" font-size="98.5">HA 3.0</text>
<path d="M416.5,517.0 H589.5" stroke="#ff00ff" stroke-width="15" stroke-linecap="round" fill="none"/>
<text x="614.2" y="542.6" font-size="98.5">HA 3.3</text>
<path d="M416.5,641.6 H589.5" stroke="#008000" stroke-width="15" stroke-linecap="round" fill="none"/>
<text x="614.2" y="667.2" font-size="98.5">HA 3.7</text>
<text x="314.5" y="1565.3" font-size="92.5" text-anchor="end">0</text>
<text x="314.5" y="1335.5" font-size="92.5" text-anchor="end">200</text>
<text x="314.5" y="1105.7" font-size="92.5" text-anchor="end">400</text>
<text x="314.5" y="875.9" font-size="92.5" text-anchor="end">600</text>
<text x="314.5" y="646.0" font-size="92.5" text-anchor="end">800</text>
<text x="314.5" y="416.2" font-size="92.5" text-anchor="end">1000</text>
<text x="314.5" y="186.4" font-size="92.5" text-anchor="end">1200</text>
<text x="597.8" y="1661" font-size="92.5" text-anchor="middle">500</text>
<text x="1757.6" y="1661" font-size="92.5" text-anchor="middle">1000</text>
<text x="849.5" y="1811" font-size="98.6">Raman Shift (cm<tspan font-size="69" dy="-39">-1</tspan><tspan dy="39">)</tspan></text>
<text transform="translate(105.5,1266) rotate(-90)" font-size="99">Raman Intensity (a.u.)</text>
<g transform="translate(573.9,1360.5) rotate(-90)"><text transform="translate(-0.75,0.50) scale(1.085,1)" font-size="85.2" font-weight="normal">δ</text><text transform="translate(41.20,23.20) scale(0.955,1)" font-size="61.1" font-weight="bold">1</text><text transform="translate(72.90,0.10) scale(0.94,1)" font-size="92.7" font-weight="bold">,</text><text transform="translate(115.10,0.00) scale(0.955,1)" font-size="87.8" font-weight="bold">P</text><text transform="translate(165.65,0.15) scale(0.985,1)" font-size="88.1" font-weight="bold">O</text><text transform="translate(232.75,19.50) scale(0.94,1)" font-size="96.7" font-weight="bold">4</text><text transform="translate(229.60,-33.00) scale(0.995,1)" font-size="96.7" font-weight="bold">3</text><text transform="translate(278.50,-24.80) scale(0.844,1)" font-size="123.7" font-weight="bold">-</text></g>
<g transform="translate(938.9,1346.7) rotate(-90)"><text transform="translate(-0.75,0.50) scale(1.085,1)" font-size="85.2" font-weight="normal">δ</text><text transform="translate(41.20,23.20) scale(0.955,1)" font-size="61.1" font-weight="bold">2</text><text transform="translate(72.90,0.10) scale(0.94,1)" font-size="92.7" font-weight="bold">,</text><text transform="translate(115.10,0.00) scale(0.955,1)" font-size="87.8" font-weight="bold">P</text><text transform="translate(165.65,0.15) scale(0.985,1)" font-size="88.1" font-weight="bold">O</text><text transform="translate(232.75,19.50) scale(0.94,1)" font-size="96.7" font-weight="bold">4</text><text transform="translate(229.60,-33.00) scale(0.995,1)" font-size="96.7" font-weight="bold">3</text><text transform="translate(278.50,-24.80) scale(0.844,1)" font-size="123.7" font-weight="bold">-</text></g>
<g transform="translate(1605.5,434.5) rotate(-90)"><text transform="translate(1.40,-0.30) scale(0.962,1)" font-size="83.8" font-weight="bold">v</text><text transform="translate(41.20,23.20) scale(0.955,1)" font-size="61.1" font-weight="bold">1</text><text transform="translate(72.90,0.10) scale(0.94,1)" font-size="92.7" font-weight="bold">,</text><text transform="translate(115.10,0.00) scale(0.955,1)" font-size="87.8" font-weight="bold">P</text><text transform="translate(165.65,0.15) scale(0.985,1)" font-size="88.1" font-weight="bold">O</text><text transform="translate(232.75,19.50) scale(0.94,1)" font-size="96.7" font-weight="bold">4</text><text transform="translate(229.60,-33.00) scale(0.995,1)" font-size="96.7" font-weight="bold">3</text><text transform="translate(278.50,-24.80) scale(0.844,1)" font-size="123.7" font-weight="bold">-</text></g>
<g transform="translate(1820.2,1130.0) rotate(-90)"><text transform="translate(1.40,-0.30) scale(0.962,1)" font-size="83.8" font-weight="bold">v</text><text transform="translate(41.20,23.20) scale(0.955,1)" font-size="61.1" font-weight="bold">2</text><text transform="translate(72.90,0.10) scale(0.94,1)" font-size="92.7" font-weight="bold">,</text><text transform="translate(115.10,0.00) scale(0.955,1)" font-size="87.8" font-weight="bold">P</text><text transform="translate(165.65,0.15) scale(0.985,1)" font-size="88.1" font-weight="bold">O</text><text transform="translate(232.75,19.50) scale(0.94,1)" font-size="96.7" font-weight="bold">4</text><text transform="translate(229.60,-33.00) scale(0.995,1)" font-size="96.7" font-weight="bold">3</text><text transform="translate(278.50,-24.80) scale(0.844,1)" font-size="123.7" font-weight="bold">-</text></g>
</svg>
</body>
</html>
